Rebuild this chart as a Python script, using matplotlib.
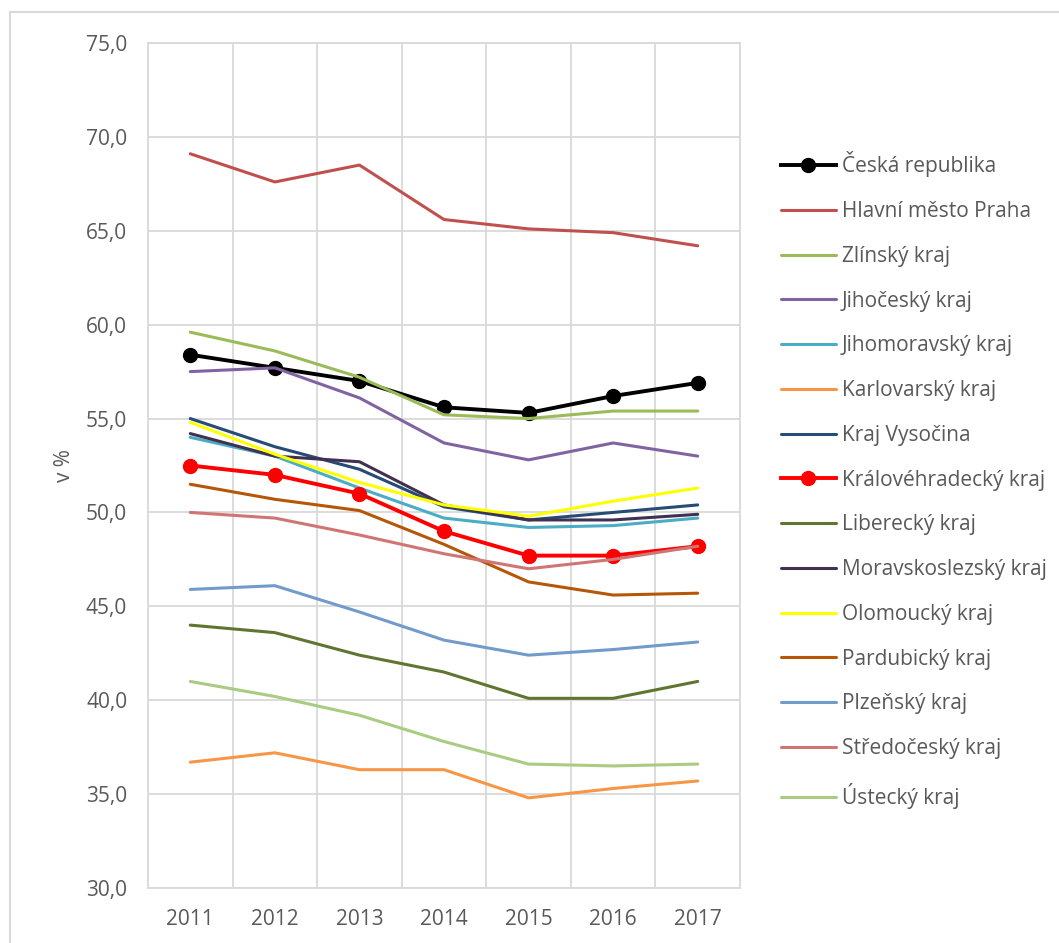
import numpy as np
import matplotlib
matplotlib.use("Agg")
import matplotlib.pyplot as plt
from matplotlib.lines import Line2D

years = ["2011", "2012", "2013", "2014", "2015", "2016", "2017"]

ceska_republika = [58.4, 57.7, 57.0, 55.6, 55.3, 56.2, 56.9]
praha = [69.1, 67.6, 68.5, 65.6, 65.1, 64.9, 64.2]
zlinsky = [59.6, 58.6, 57.2, 55.2, 55.0, 55.4, 55.4]
jihocesky = [57.5, 57.7, 56.1, 53.7, 52.8, 53.7, 53.0]
jihomoravsky = [54.0, 53.0, 51.3, 49.7, 49.2, 49.3, 49.7]
karlovarsky = [36.7, 37.2, 36.3, 36.3, 34.8, 35.3, 35.7]
vysocina = [55.0, 53.5, 52.3, 50.3, 49.6, 50.0, 50.4]
kralovehradecky = [52.5, 52.0, 51.0, 49.0, 47.7, 47.7, 48.2]
liberecky = [44.0, 43.6, 42.4, 41.5, 40.1, 40.1, 41.0]
moravskoslezsky = [54.2, 53.0, 52.7, 50.4, 49.6, 49.6, 49.9]
olomoucky = [54.8, 53.1, 51.6, 50.4, 49.8, 50.6, 51.3]
pardubicky = [51.5, 50.7, 50.1, 48.3, 46.3, 45.6, 45.7]
plzensky = [45.9, 46.1, 44.7, 43.2, 42.4, 42.7, 43.1]
stredocesky = [50.0, 49.7, 48.8, 47.8, 47.0, 47.5, 48.2]
ustecky = [41.0, 40.2, 39.2, 37.8, 36.6, 36.5, 36.6]

names = ["Česká republika", "Hlavní město Praha", "Zlínský kraj", "Jihočeský kraj",
         "Jihomoravský kraj", "Karlovarský kraj", "Kraj Vysočina", "Královéhradecký kraj",
         "Liberecký kraj", "Moravskoslezský kraj", "Olomoucký kraj", "Pardubický kraj",
         "Plzeňský kraj", "Středočeský kraj", "Ústecký kraj"]
series = [ceska_republika, praha, zlinsky, jihocesky, jihomoravsky, karlovarsky, vysocina,
          kralovehradecky, liberecky, moravskoslezsky, olomoucky, pardubicky, plzensky,
          stredocesky, ustecky]
colors = ["#000000", "#C0504D", "#9BBB59", "#8064A2", "#4BACC6", "#F79646", "#264B75",
          "#FF0000", "#5F7530", "#403152", "#FFFF00", "#B65708", "#729ACA", "#CF7573",
          "#A9CC82"]

plt.rcParams['font.family'] = ['Open Sans', 'DejaVu Sans']
txt = "#595959"
grid = "#D9D9D9"
fs = 15

fig = plt.figure(figsize=(10.59, 9.43), dpi=100)
ax = fig.add_axes([148 / 1059, 1 - 888 / 943, 592 / 1059, 845 / 943])

x = np.arange(len(years))
for i, (name, vals, c) in enumerate(zip(names, series, colors)):
    if name in ("Česká republika", "Královéhradecký kraj"):
        ax.plot(x, vals, color=c, lw=2.8, marker="o", ms=10, label=name, zorder=3 + i * 0.01)
    else:
        ax.plot(x, vals, color=c, lw=2.2, label=name, zorder=3 + i * 0.01,
                solid_capstyle="round")

ax.set_xlim(-0.5, len(years) - 0.5)
ax.set_ylim(30, 75)
ax.set_yticks(np.arange(30, 76, 5))
ax.set_yticklabels([f"{v:.1f}".replace(".", ",") for v in np.arange(30, 76, 5)])
ax.set_xticks(x)
ax.set_xticklabels(years)
ax.set_xticks(np.arange(0.5, len(years) - 0.5, 1), minor=True)
ax.grid(True, which="major", axis="y", color=grid, lw=1.3)
ax.grid(True, which="minor", axis="x", color=grid, lw=1.3)
ax.set_axisbelow(True)
for s in ax.spines.values():
    s.set_color(grid)
    s.set_linewidth(1.3)
ax.tick_params(which="both", length=0, colors=txt, labelsize=fs)
ax.tick_params(axis="y", pad=15)
ax.tick_params(axis="x", pad=15)
ax.set_ylabel("v %", color=txt, fontsize=fs, labelpad=8)

fig.legend(handles=ax.get_lines(), labels=names, loc="upper left",
           bbox_to_anchor=(773 / 1059, 1 - 143 / 943), frameon=False,
           fontsize=fs, labelcolor=txt, handlelength=2.6, handletextpad=0.3,
           labelspacing=1.14, borderaxespad=0)

fig.add_artist(Line2D([10 / 1059, 1], [1 - 12 / 943, 1 - 12 / 943], color=grid, lw=1.5))
fig.add_artist(Line2D([10 / 1059, 10 / 1059], [0, 1 - 12 / 943], color=grid, lw=1.5))

fig.savefig("out.png", dpi=100)
